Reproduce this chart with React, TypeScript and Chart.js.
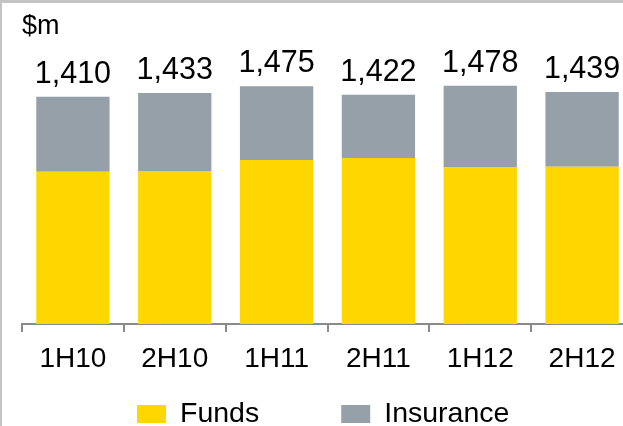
import React, { useEffect, useRef } from "react";
import { Chart, registerables } from "chart.js";

Chart.register(...registerables);

const categories = ["1H10", "2H10", "1H11", "2H11", "1H12", "2H12"];
const funds = [945, 949, 1017, 1030, 974, 976];
const insurance = [465, 484, 458, 392, 504, 463];
const seriesNames = ["Funds", "Insurance"];
const unitLabel = "$m";

const FONT = "'Liberation Sans', Arial, sans-serif";
const YELLOW = "#FFD700";
const GREY = "#95A0A8";

const totalsPlugin = {
  id: "totals",
  afterDatasetsDraw(chart: any) {
    const ctx = chart.ctx;
    const last = chart.getDatasetMeta(chart.data.datasets.length - 1);
    ctx.save();
    ctx.font = `30.5px ${FONT}`;
    ctx.fillStyle = "#000";
    ctx.textAlign = "center";
    ctx.textBaseline = "alphabetic";
    last.data.forEach((el: any, i: number) => {
      const total = chart.data.datasets.reduce(
        (s: number, ds: any) => s + (ds.data[i] as number),
        0
      );
      ctx.fillText(total.toLocaleString("en-US"), el.x, el.y - 14);
    });
    ctx.restore();
  },
};

const extrasPlugin = {
  id: "extras",
  afterDraw(chart: any) {
    const ctx = chart.ctx;
    const area = chart.chartArea;
    ctx.save();
    ctx.font = `27px ${FONT}`;
    ctx.fillStyle = "#000";
    ctx.textAlign = "left";
    ctx.textBaseline = "alphabetic";
    ctx.fillText(unitLabel, area.left, 31);
    ctx.font = `28.5px ${FONT}`;
    const boxW = 29;
    const boxH = 18;
    const gap = 14;
    const spacing = 82;
    let x = area.left + 115;
    chart.data.datasets.forEach((ds: any) => {
      ctx.fillStyle = ds.backgroundColor;
      ctx.fillRect(x, 402, boxW, boxH);
      ctx.fillStyle = "#000";
      const tx = x + boxW + gap;
      ctx.fillText(ds.label, tx, 419);
      x = tx + ctx.measureText(ds.label).width + spacing;
    });
    ctx.restore();
  },
};

export default function App() {
  const ref = useRef<HTMLCanvasElement | null>(null);

  useEffect(() => {
    if (!ref.current) return;
    const chart = new Chart(ref.current, {
      type: "bar",
      data: {
        labels: categories,
        datasets: [
          {
            label: seriesNames[0],
            data: funds,
            backgroundColor: YELLOW,
            categoryPercentage: 1,
            barPercentage: 0.72,
          },
          {
            label: seriesNames[1],
            data: insurance,
            backgroundColor: GREY,
            categoryPercentage: 1,
            barPercentage: 0.72,
          },
        ],
      },
      options: {
        responsive: false,
        animation: false,
        layout: { padding: { left: 20, right: 29, top: 14.7, bottom: 40.4 } },
        plugins: {
          legend: { display: false },
          tooltip: { enabled: false },
          title: { display: false },
        },
        scales: {
          x: {
            stacked: true,
            offset: true,
            grid: {
              display: true,
              offset: true,
              drawOnChartArea: false,
              drawTicks: true,
              tickLength: 8,
              color: "#8a8a8a",
              lineWidth: 2,
            },
            border: { display: true, color: "#8a8a8a", width: 2 },
            ticks: {
              color: "#000",
              font: { family: FONT, size: 28 },
              padding: 10,
              maxRotation: 0,
              autoSkip: false,
            },
          },
          y: {
            stacked: true,
            display: false,
            min: 0,
            max: 1900,
          },
        },
      },
      plugins: [totalsPlugin, extrasPlugin],
    });
    return () => chart.destroy();
  }, []);

  return (
    <div
      style={{
        position: "fixed",
        left: 0,
        top: 0,
        width: 623,
        height: 426,
        overflow: "hidden",
        background: "#fff",
      }}
    >
      <div
        style={{
          position: "absolute",
          left: 0,
          top: 0,
          width: 700,
          height: 500,
          borderTop: "3px solid #c4c4c4",
          borderLeft: "2px solid #c4c4c4",
          boxSizing: "border-box",
        }}
      >
        <canvas
          ref={ref}
          width={660}
          height={423}
          style={{ position: "absolute", left: 0, top: 0, width: 660, height: 423 }}
        />
      </div>
    </div>
  );
}
